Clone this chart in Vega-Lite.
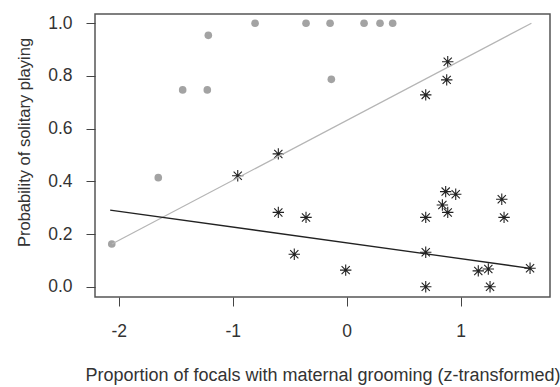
{
  "$schema": "https://vega.github.io/schema/vega-lite/v6.json",
  "width": 455,
  "height": 283,
  "autosize": "none",
  "padding": {"left": 95, "top": 14, "right": 10, "bottom": 90},
  "background": "white",
  "config": {
    "view": {"stroke": "#555555", "strokeWidth": 1.5},
    "font": "Liberation Sans",
    "axis": {
      "grid": false,
      "domain": false,
      "tickColor": "#444444",
      "tickWidth": 1,
      "tickSize": 9,
      "labelFont": "Liberation Sans",
      "labelFontSize": 17.5,
      "labelColor": "#333333",
      "titleFont": "Liberation Sans",
      "titleFontWeight": "normal",
      "titleColor": "#333333"
    }
  },
  "layer": [
    {
      "data": {"values": [
        {"x": -2.061, "p": 0.162},
        {"x": -1.653, "p": 0.414},
        {"x": -1.439, "p": 0.747},
        {"x": -1.223, "p": 0.747},
        {"x": -1.214, "p": 0.954},
        {"x": -0.804, "p": 1.0},
        {"x": -0.357, "p": 1.0},
        {"x": -0.146, "p": 1.0},
        {"x": -0.135, "p": 0.787},
        {"x": 0.152, "p": 1.0},
        {"x": 0.292, "p": 1.0},
        {"x": 0.403, "p": 1.0}
      ]},
      "mark": {"type": "circle", "color": "#a3a3a3", "opacity": 1, "size": 58},
      "encoding": {
        "x": {"field": "x", "type": "quantitative",
          "scale": {"domain": [-2.208, 1.783], "nice": false, "zero": false},
          "axis": {"values": [-2, -1, 0, 1], "labelExpr": "datum.value + ''", "labelPadding": 16,
                   "title": "Proportion of focals with maternal grooming (z-transformed)", "titleFontSize": 18, "titlePadding": 27}},
        "y": {"field": "p", "type": "quantitative",
          "scale": {"domain": [-0.039, 1.035], "nice": false, "zero": false},
          "axis": {"values": [0, 0.2, 0.4, 0.6, 0.8, 1.0], "format": ".1f", "labelPadding": 14,
                   "title": "Probability of solitary playing", "titleFontSize": 16.5, "titlePadding": 15, "titleY": 128}}
      }
    },
    {
      "data": {"values": [
        {"x": -0.600, "p": 0.504},
        {"x": -0.956, "p": 0.421},
        {"x": -0.600, "p": 0.282},
        {"x": -0.357, "p": 0.263},
        {"x": -0.460, "p": 0.123},
        {"x": -0.009, "p": 0.063},
        {"x": 0.886, "p": 0.854},
        {"x": 0.877, "p": 0.785},
        {"x": 0.693, "p": 0.728},
        {"x": 0.868, "p": 0.361},
        {"x": 0.956, "p": 0.351},
        {"x": 0.839, "p": 0.310},
        {"x": 0.886, "p": 0.282},
        {"x": 0.693, "p": 0.263},
        {"x": 1.360, "p": 0.332},
        {"x": 1.380, "p": 0.263},
        {"x": 0.693, "p": 0.131},
        {"x": 1.154, "p": 0.060},
        {"x": 1.242, "p": 0.067},
        {"x": 1.608, "p": 0.070},
        {"x": 0.693, "p": 0.0},
        {"x": 1.257, "p": 0.0}
      ]},
      "mark": {"type": "point", "shape": "M-1,0L1,0M0,-1L0,1M-0.72,-0.72L0.72,0.72M-0.72,0.72L0.72,-0.72", "filled": false, "stroke": "#222222", "strokeWidth": 1.1, "opacity": 1, "size": 130},
      "encoding": {
        "x": {"field": "x", "type": "quantitative"},
        "y": {"field": "p", "type": "quantitative"}
      }
    },
    {
      "data": {"values": [
        {"x": -2.06, "p": 0.162},
        {"x": 1.62, "p": 1.0}
      ]},
      "mark": {"type": "line", "color": "#b5b5b5", "strokeWidth": 1.2},
      "encoding": {
        "x": {"field": "x", "type": "quantitative"},
        "y": {"field": "p", "type": "quantitative"}
      }
    },
    {
      "data": {"values": [
        {"x": -2.075, "p": 0.291},
        {"x": 1.608, "p": 0.070}
      ]},
      "mark": {"type": "line", "color": "#222222", "strokeWidth": 1.3},
      "encoding": {
        "x": {"field": "x", "type": "quantitative"},
        "y": {"field": "p", "type": "quantitative"}
      }
    }
  ]
}
